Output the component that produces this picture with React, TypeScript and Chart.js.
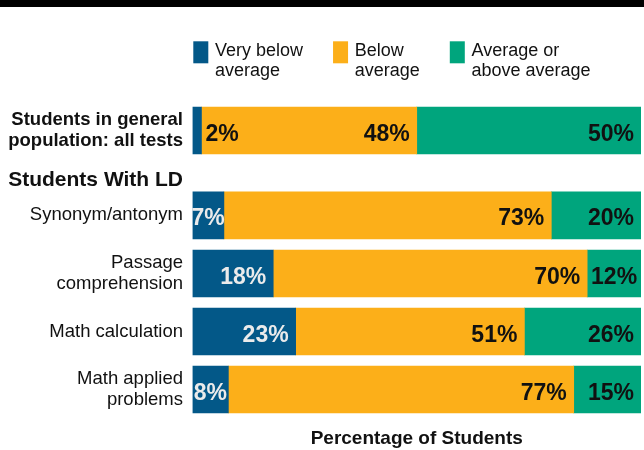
import React, { useEffect, useRef } from "react";
import { Chart, registerables } from "chart.js";

Chart.register(...registerables);

// ---- data ----
const CATEGORY_LABELS: string[][] = [
  ["Students in general", "population: all tests"],
  ["Students With LD"],
  ["Synonym/antonym"],
  ["Passage", "comprehension"],
  ["Math calculation"],
  ["Math applied", "problems"],
];
const SERIES_NAMES = ["Very below average", "Below average", "Average or above average"];
const LEGEND_LINES: string[][] = [
  ["Very below", "average"],
  ["Below", "average"],
  ["Average or", "above average"],
];
const VERY_BELOW = [2, 7, 18, 23, 8];
const BELOW = [48, 73, 70, 51, 77];
const AVERAGE_OR_ABOVE = [50, 20, 12, 26, 15];
const AXIS_TITLE = "Percentage of Students";

// ---- layout (row slot positions on the vertical linear scale) ----
const TICK_SLOTS = [0, 0.86, 1.462, 2.466, 3.466, 4.466];
const BAR_SLOTS = [TICK_SLOTS[0], TICK_SLOTS[2], TICK_SLOTS[3], TICK_SLOTS[4], TICK_SLOTS[5]];

const COLORS = ["#035888", "#FCAF19", "#00A57D"];
const FONT = '"Liberation Sans", Arial, Helvetica, sans-serif';
const DARK = "#111111";
const LIGHT = "#ebebeb";

const topBarPlugin = {
  id: "topBar",
  beforeDraw(chart: any) {
    const ctx = chart.ctx;
    ctx.save();
    ctx.fillStyle = "#000000";
    ctx.fillRect(0, 0, chart.width, 7);
    ctx.restore();
  },
};

const legendPlugin = {
  id: "customLegend",
  afterDraw(chart: any) {
    const ctx = chart.ctx;
    ctx.save();
    ctx.font = `18px ${FONT}`;
    ctx.textBaseline = "alphabetic";
    ctx.textAlign = "left";
    let cx = chart.chartArea.left + 0.8;
    chart.data.datasets.forEach((ds: any, i: number) => {
      ctx.fillStyle = ds.backgroundColor;
      ctx.fillRect(cx, 41.3, 15, 22);
      const lines = LEGEND_LINES[i];
      const tx = cx + 21.7;
      ctx.fillStyle = DARK;
      let maxW = 0;
      lines.forEach((ln, j) => {
        ctx.fillText(ln, tx, 56 + j * 20);
        maxW = Math.max(maxW, ctx.measureText(ln).width);
      });
      cx = tx + maxW + 30;
    });
    ctx.restore();
  },
};

const valueLabelPlugin = {
  id: "valueLabels",
  afterDatasetsDraw(chart: any) {
    const ctx = chart.ctx;
    ctx.save();
    ctx.font = `bold 23px ${FONT}`;
    ctx.textBaseline = "alphabetic";
    chart.data.datasets.forEach((ds: any, di: number) => {
      const meta = chart.getDatasetMeta(di);
      meta.data.forEach((bar: any, i: number) => {
        const v = ds.data[i].x;
        const text = `${v}%`;
        const { x, base, y } = bar.getProps(["x", "base", "y"], true);
        const left = Math.min(x, base);
        const right = Math.max(x, base);
        const w = right - left;
        const tw = ctx.measureText(text).width;
        let tx: number;
        let color = di === 0 ? LIGHT : DARK;
        if (tw > w + 4) {
          ctx.textAlign = "left";
          tx = right + 4;
          color = DARK;
        } else if (tw + 14 > w) {
          ctx.textAlign = "center";
          tx = (left + right) / 2;
        } else {
          ctx.textAlign = "right";
          tx = right - 7;
        }
        ctx.fillStyle = color;
        ctx.fillText(text, tx, y + 10);
      });
    });
    ctx.restore();
  },
};

export default function App() {
  const canvasRef = useRef<HTMLCanvasElement | null>(null);

  useEffect(() => {
    if (!canvasRef.current) return;
    const seriesValues = [VERY_BELOW, BELOW, AVERAGE_OR_ABOVE];
    const chart = new Chart(canvasRef.current, {
      type: "bar",
      data: {
        datasets: seriesValues.map((vals, si) => ({
          label: SERIES_NAMES[si],
          data: vals.map((v, i) => ({ x: v, y: BAR_SLOTS[i] })),
          backgroundColor: COLORS[si],
          borderWidth: 0,
          barThickness: 47,
        })),
      },
      options: {
        indexAxis: "y",
        animation: false,
        responsive: true,
        maintainAspectRatio: false,
        layout: { autoPadding: false, padding: { top: 101.5, right: 3, bottom: 0, left: 0 } },
        plugins: {
          legend: { display: false },
          tooltip: { enabled: false },
        },
        scales: {
          x: {
            type: "linear",
            stacked: true,
            min: 0,
            max: 100,
            offset: false,
            grid: { display: false, drawTicks: false },
            border: { display: false },
            ticks: { display: false },
            title: {
              display: true,
              text: AXIS_TITLE,
              color: DARK,
              font: { family: FONT, size: 19, weight: "bold", lineHeight: 1.2 },
              padding: { top: 6.7, bottom: 0 },
            },
          },
          y: {
            type: "linear",
            stacked: true,
            reverse: true,
            offset: false,
            min: -0.5,
            max: 5,
            grid: { display: false, drawTicks: false, offset: false },
            border: { display: false },
            afterBuildTicks: (scale: any) => {
              scale.ticks = TICK_SLOTS.map((v) => ({ value: v }));
            },
            afterFit: (scale: any) => {
              scale.width = 192.5;
              scale.paddingTop = 0;
              scale.paddingBottom = 0;
            },
            ticks: {
              autoSkip: false,
              padding: 9.5,
              color: DARK,
              callback: (_v: any, index: number) => CATEGORY_LABELS[index],
              font: (ctx: any) => {
                const idx = ctx.index;
                if (idx === 0) return { family: FONT, size: 18.5, weight: "bold", lineHeight: 1.12 };
                if (idx === 1) return { family: FONT, size: 21, weight: "bold", lineHeight: 1.12 };
                return { family: FONT, size: 18.5, weight: "normal", lineHeight: 1.14 };
              },
            },
          },
        },
      } as any,
      plugins: [topBarPlugin, legendPlugin, valueLabelPlugin],
    });
    return () => chart.destroy();
  }, []);

  return (
    <div style={{ position: "absolute", left: 0, top: 0, width: 644, height: 450, background: "#ffffff" }}>
      <canvas ref={canvasRef} />
    </div>
  );
}
